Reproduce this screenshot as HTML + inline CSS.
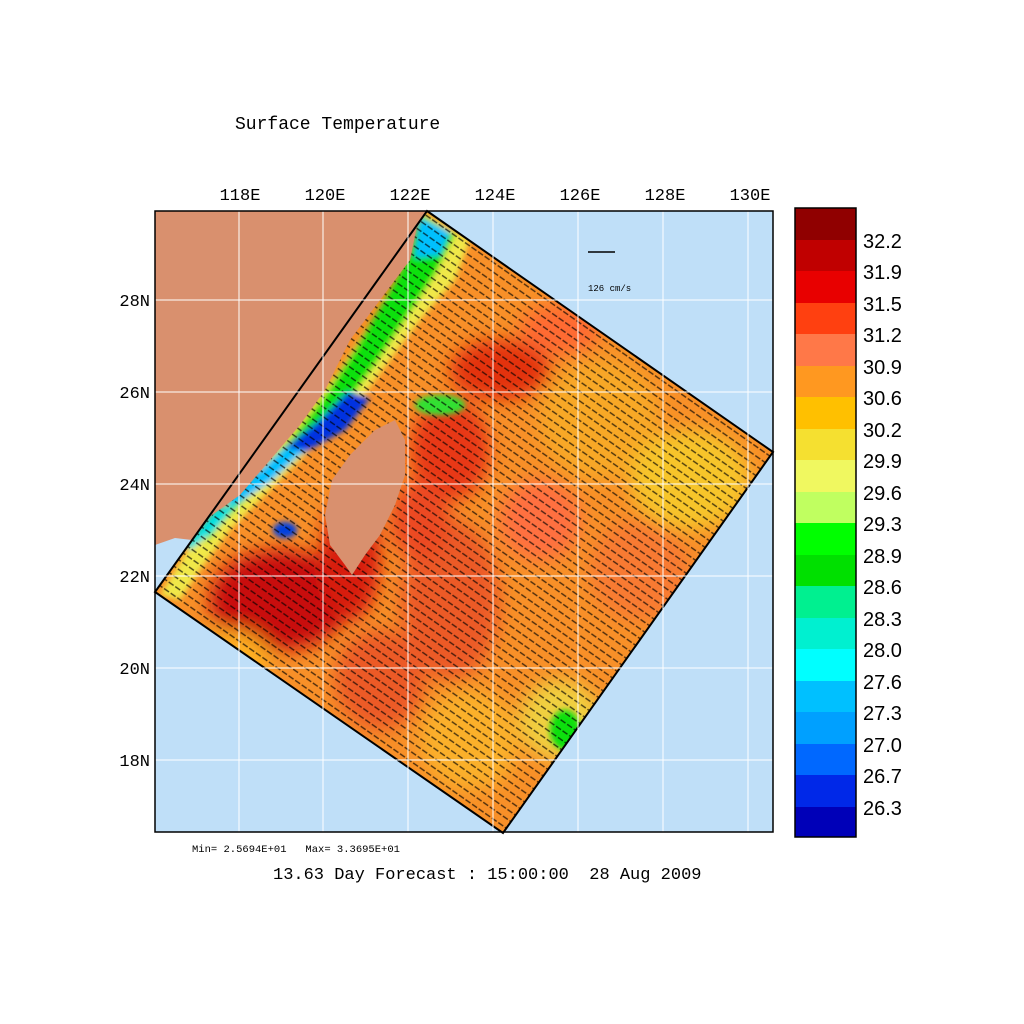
<!DOCTYPE html>
<html><head><style>
body{margin:0;background:#fff;}
svg{display:block;font-family:"Liberation Mono",monospace;}
</style></head><body>
<svg width="1024" height="1024" viewBox="0 0 1024 1024" xmlns="http://www.w3.org/2000/svg">
<defs>
<filter id="b" x="-30%" y="-30%" width="160%" height="160%"><feGaussianBlur stdDeviation="9"/></filter>
<filter id="b2" x="-30%" y="-30%" width="160%" height="160%"><feGaussianBlur stdDeviation="3"/></filter>
<clipPath id="dom"><polygon points="427,211 773,452 503,833 155,592"/></clipPath>
<pattern id="arr" width="8" height="8" patternUnits="userSpaceOnUse" patternTransform="rotate(35)">
<line x1="0" y1="4" x2="6" y2="4" stroke="#000" stroke-width="1.4"/>
</pattern>
</defs>
<rect x="155" y="211" width="618" height="621" fill="#bfdff8"/>
<polygon points="155,211 427,211 192,540 175,538 155,545" fill="#d9906e"/>
<g clip-path="url(#dom)">
<rect x="150" y="205" width="630" height="635" fill="#f89028"/>
<g filter="url(#b)">
<ellipse cx="280" cy="600" rx="70" ry="50" fill="#c8100a"/>
<ellipse cx="350" cy="560" rx="30" ry="60" fill="#d81a0a"/>
<ellipse cx="450" cy="450" rx="40" ry="50" fill="#e83818"/>
<ellipse cx="500" cy="370" rx="50" ry="30" fill="#e3300f"/>
<ellipse cx="560" cy="330" rx="40" ry="25" fill="#ff6a30"/>
<ellipse cx="600" cy="420" rx="60" ry="60" fill="#f8a828"/>
<ellipse cx="690" cy="480" rx="60" ry="50" fill="#f7c52a"/>
<ellipse cx="450" cy="600" rx="50" ry="80" fill="#ec5a28"/>
<ellipse cx="540" cy="520" rx="40" ry="40" fill="#ff7040"/>
<ellipse cx="470" cy="740" rx="50" ry="50" fill="#fbb02a"/>
<ellipse cx="560" cy="720" rx="40" ry="40" fill="#f0d040"/>
<ellipse cx="380" cy="680" rx="45" ry="50" fill="#ec5a28"/>
<ellipse cx="230" cy="660" rx="40" ry="30" fill="#ffb020"/>
<ellipse cx="640" cy="570" rx="50" ry="50" fill="#f87a30"/>
<ellipse cx="420" cy="520" rx="30" ry="40" fill="#ec4a20"/>
</g>
<g filter="url(#b2)">
<polygon points="420,211 470,240 455,280 420,320 390,360 360,400 320,440 270,490 230,530 200,570 180,600 160,595 200,530 250,480 300,420 340,370 380,310 410,260" fill="#f0e848"/>
<polygon points="420,214 455,235 435,275 405,320 375,365 345,405 300,445 255,490 220,525 205,545 215,520 245,485 290,440 325,395 355,350 385,300 410,255" fill="#10e010"/>
<polygon points="348,392 370,398 345,430 300,455 285,448 320,420" fill="#0030e0"/>
<polygon points="285,448 305,450 270,482 235,505 225,500" fill="#00c0ff"/>
<polygon points="215,510 240,500 215,530 190,550 185,545" fill="#00e0e0"/>
<polygon points="420,218 450,232 440,255 415,258" fill="#00c0ff"/>
<ellipse cx="285" cy="530" rx="12" ry="8" fill="#0040e0"/>
<ellipse cx="565" cy="730" rx="15" ry="20" fill="#10e010"/>
<ellipse cx="440" cy="405" rx="25" ry="10" fill="#30e030"/>
</g>
<rect x="150" y="205" width="630" height="635" fill="url(#arr)" opacity="0.7"/>
<polygon points="155,211 420,211 410,260 380,300 350,340 325,390 300,425 270,460 240,495 205,520 175,535 155,540" fill="#d9906e"/>
</g>
<polygon points="427,211 773,452 503,833 155,592" fill="none" stroke="#000" stroke-width="2"/>
<path d="M395,420 L405,440 L405,475 L395,505 L380,535 L365,555 L352,575 L345,565 L330,545 L325,515 L332,480 L350,455 L375,430 Z" fill="#d9906e"/>
<g stroke="#fff" stroke-width="1">
<line x1="239" y1="211" x2="239" y2="832"/><line x1="323" y1="211" x2="323" y2="832"/><line x1="408" y1="211" x2="408" y2="832"/><line x1="493" y1="211" x2="493" y2="832"/><line x1="578" y1="211" x2="578" y2="832"/><line x1="663" y1="211" x2="663" y2="832"/><line x1="748" y1="211" x2="748" y2="832"/>
<line x1="155" y1="300" x2="773" y2="300"/><line x1="155" y1="392" x2="773" y2="392"/><line x1="155" y1="484" x2="773" y2="484"/><line x1="155" y1="576" x2="773" y2="576"/><line x1="155" y1="668" x2="773" y2="668"/><line x1="155" y1="760" x2="773" y2="760"/>
</g>
<rect x="155" y="211" width="618" height="621" fill="none" stroke="#000" stroke-width="1.5"/>
<line x1="588" y1="252" x2="615" y2="252" stroke="#000" stroke-width="1.5"/>
<text x="588" y="291" font-size="9">126 cm/s</text>
<g font-size="17" text-anchor="middle">
<text x="240" y="200">118E</text><text x="325" y="200">120E</text><text x="410" y="200">122E</text><text x="495" y="200">124E</text><text x="580" y="200">126E</text><text x="665" y="200">128E</text><text x="750" y="200">130E</text>
</g>
<g font-size="17" text-anchor="end">
<text x="150" y="306">28N</text><text x="150" y="398">26N</text><text x="150" y="490">24N</text><text x="150" y="582">22N</text><text x="150" y="674">20N</text><text x="150" y="766">18N</text>
</g>
<text x="235" y="129" font-size="18">Surface Temperature</text>
<text x="192" y="852" font-size="10.5" style="white-space:pre">Min= 2.5694E+01   Max= 3.3695E+01</text>
<text x="273" y="879" font-size="17" style="white-space:pre">13.63 Day Forecast : 15:00:00  28 Aug 2009</text>
<g>
<rect x="795" y="208" width="61" height="32" fill="#900000"/>
<rect x="795" y="240" width="61" height="31" fill="#c00000"/>
<rect x="795" y="271" width="61" height="32" fill="#e80000"/>
<rect x="795" y="303" width="61" height="31" fill="#ff4010"/>
<rect x="795" y="334" width="61" height="32" fill="#ff7848"/>
<rect x="795" y="366" width="61" height="31" fill="#ff9820"/>
<rect x="795" y="397" width="61" height="32" fill="#ffc000"/>
<rect x="795" y="429" width="61" height="31" fill="#f5e030"/>
<rect x="795" y="460" width="61" height="32" fill="#f0f860"/>
<rect x="795" y="492" width="61" height="31" fill="#c0ff60"/>
<rect x="795" y="523" width="61" height="32" fill="#00ff00"/>
<rect x="795" y="555" width="61" height="31" fill="#00e000"/>
<rect x="795" y="586" width="61" height="32" fill="#00f090"/>
<rect x="795" y="618" width="61" height="31" fill="#00f0d0"/>
<rect x="795" y="649" width="61" height="32" fill="#00ffff"/>
<rect x="795" y="681" width="61" height="31" fill="#00c0ff"/>
<rect x="795" y="712" width="61" height="32" fill="#00a0ff"/>
<rect x="795" y="744" width="61" height="31" fill="#0068ff"/>
<rect x="795" y="775" width="61" height="32" fill="#0028e8"/>
<rect x="795" y="807" width="61" height="30" fill="#0000b8"/>
<rect x="795" y="208" width="61" height="629" fill="none" stroke="#000" stroke-width="1.5"/>
</g>
<g font-size="20" font-family="Liberation Sans, sans-serif">
<text x="863" y="248">32.2</text><text x="863" y="279">31.9</text><text x="863" y="311">31.5</text><text x="863" y="342">31.2</text><text x="863" y="374">30.9</text><text x="863" y="405">30.6</text><text x="863" y="437">30.2</text><text x="863" y="468">29.9</text><text x="863" y="500">29.6</text><text x="863" y="531">29.3</text><text x="863" y="563">28.9</text><text x="863" y="594">28.6</text><text x="863" y="626">28.3</text><text x="863" y="657">28.0</text><text x="863" y="689">27.6</text><text x="863" y="720">27.3</text><text x="863" y="752">27.0</text><text x="863" y="783">26.7</text><text x="863" y="815">26.3</text>
</g>
</svg>
</body></html>
